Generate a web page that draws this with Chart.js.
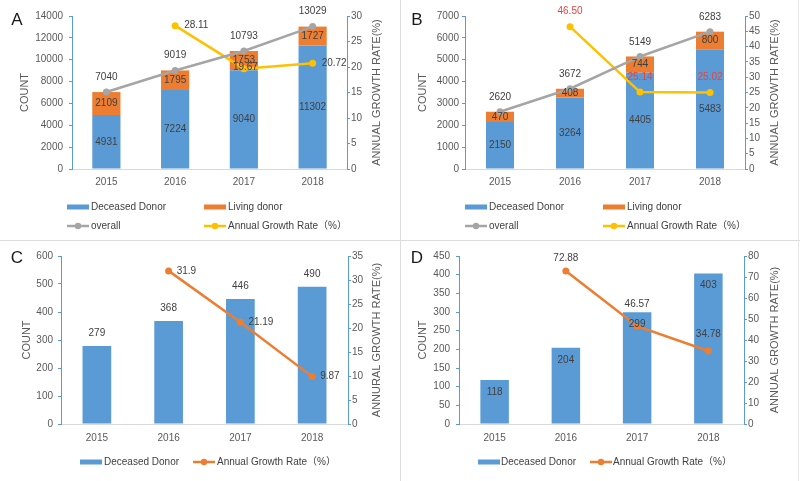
<!DOCTYPE html>
<html><head><meta charset="utf-8">
<script src="https://cdn.jsdelivr.net/npm/chart.js@4.4.0/dist/chart.umd.min.js"></script>
<style>
html,body{margin:0;padding:0;background:#fff;width:800px;height:481px;overflow:hidden;position:relative}
.panel{position:absolute}
canvas{display:block}
.vline{position:absolute;left:400px;top:0;width:1px;height:481px;background:#dcdcdc}
.hline{position:absolute;left:0;top:240px;width:800px;height:1px;background:#dcdcdc}
.rline{position:absolute;left:798px;top:0;width:1px;height:481px;background:#e6e6e6}
</style></head>
<body>
<div class="panel" style="left:0;top:0"><canvas id="cA" width="400" height="240"></canvas></div>
<div class="panel" style="left:400px;top:0"><canvas id="cB" width="400" height="240"></canvas></div>
<div class="panel" style="left:0;top:240px"><canvas id="cC" width="400" height="241"></canvas></div>
<div class="panel" style="left:400px;top:240px"><canvas id="cD" width="400" height="241"></canvas></div>
<div class="vline"></div><div class="hline"></div><div class="rline"></div>
<script>
// ---------- DATA ----------
const years = ['2015', '2016', '2017', '2018'];

const A_deceased = [4931, 7224, 9040, 11302];
const A_living   = [2109, 1795, 1753, 1727];
const A_overall  = [7040, 9019, 10793, 13029];
const A_growth   = [null, 28.11, 19.67, 20.72];

const B_deceased = [2150, 3264, 4405, 5483];
const B_living   = [470, 408, 744, 800];
const B_overall  = [2620, 3672, 5149, 6283];
const B_growth   = [null, 46.50, 25.14, 25.02];

const C_deceased = [279, 368, 446, 490];
const C_growth   = [null, 31.9, 21.19, 9.87];

const D_deceased = [118, 204, 299, 403];
const D_growth   = [null, 72.88, 46.57, 34.78];

// axis ranges / ticks
const A_countAxis = {min: 0, max: 14000, step: 2000};
const A_rateAxis  = {min: 0, max: 30, step: 5};
const B_countAxis = {min: 0, max: 7000, step: 1000};
const B_rateAxis  = {min: 0, max: 50, step: 5};
const C_countAxis = {min: 0, max: 600, step: 100};
const C_rateAxis  = {min: 0, max: 35, step: 5};
const D_countAxis = {min: 0, max: 450, step: 50};
const D_rateAxis  = {min: 0, max: 80, step: 10};

// ---------- STYLE ----------
const BLUE = '#5B9BD5', ORANGE = '#ED7D31', GRAY = '#A5A5A5', YELLOW = '#FFC000', RED = '#E8443A';
const TICK = '#595959', LABEL = '#404040';
const FONT = '"Liberation Sans", Arial, "Noto Sans CJK SC", sans-serif';
Chart.defaults.font.family = FONT;
Chart.defaults.font.size = 10;
Chart.defaults.color = TICK;

const dlPlugin = {
  id: 'dlabels',
  afterDatasetsDraw(chart) {
    const ctx = chart.ctx;
    chart.data.datasets.forEach((ds, i) => {
      const cfg = ds.dl; if (!cfg) return;
      const meta = chart.getDatasetMeta(i);
      meta.data.forEach((el, j) => {
        const v = ds.data[j]; if (v == null) return;
        const txt = cfg.fmt ? cfg.fmt(v) : String(v);
        ctx.save();
        ctx.font = '10px ' + FONT;
        ctx.fillStyle = cfg.color || LABEL;
        ctx.textBaseline = 'middle';
        ctx.textAlign = 'center';
        let x = el.x, y = el.y;
        if (cfg.pos === 'center') y = (el.y + el.base) / 2;
        else if (cfg.pos === 'above') y = el.y - cfg.off;
        else if (cfg.pos === 'inside') y = el.y + cfg.off;
        else if (cfg.pos === 'right') { ctx.textAlign = 'left'; x = el.x + cfg.off; }
        if (cfg.dx) x += cfg.dx[j] || 0;
        if (cfg.dy) y += cfg.dy[j] || 0;
        ctx.fillText(txt, x, y);
        ctx.restore();
      });
    });
  }
};

const decoPlugin = {
  id: 'deco',
  afterDraw(chart, args, o) {
    const ctx = chart.ctx;
    ctx.save();
    // panel letter
    ctx.font = '17px ' + FONT; ctx.fillStyle = '#1a1a1a';
    ctx.textAlign = 'center'; ctx.textBaseline = 'middle';
    ctx.fillText(o.letter, 17, o.letterY);
    // right axis title (reads bottom-to-top)
    const ry = chart.scales.y1;
    ctx.save();
    ctx.translate(o.rightTitleX, (ry.top + ry.bottom) / 2);
    ctx.rotate(-Math.PI / 2);
    ctx.font = '11px ' + FONT; ctx.fillStyle = TICK;
    ctx.fillText(o.rightTitle, 0, 0);
    ctx.restore();
    // legend
    ctx.font = '10px ' + FONT; ctx.textAlign = 'left'; ctx.textBaseline = 'middle';
    o.legend.forEach(it => {
      if (it.type === 'box') {
        ctx.fillStyle = it.color;
        ctx.fillRect(it.x, it.y - 2.5, 22, 5);
      } else {
        ctx.strokeStyle = it.color; ctx.lineWidth = 2.5;
        ctx.beginPath(); ctx.moveTo(it.x, it.y); ctx.lineTo(it.x + 22, it.y); ctx.stroke();
        ctx.fillStyle = it.color; ctx.beginPath(); ctx.arc(it.x + 11, it.y, 3.2, 0, Math.PI * 2); ctx.fill();
      }
      ctx.fillStyle = LABEL;
      ctx.fillText(it.text, it.tx, it.y + 0.5);
    });
    ctx.restore();
  }
};

const plain = v => String(v);

function makeScales(p) {
  return {
    x: {
      stacked: true,
      grid: {display: false, drawTicks: false},
      border: {color: '#D9D9D9', width: 1},
      ticks: {color: TICK, font: {size: 10}, padding: p.xPad},
      afterFit(s) { s.height = p.xH; }
    },
    y: {
      stacked: true, position: 'left',
      min: p.count.min, max: p.count.max,
      ticks: {stepSize: p.count.step, color: TICK, font: {size: 10}, padding: p.yPad, callback: plain},
      grid: {drawOnChartArea: false, color: BLUE, tickLength: 3},
      border: {color: BLUE, width: 1},
      title: {display: true, text: 'COUNT', color: TICK, font: {size: 11}, padding: {top: p.leftTitlePad, bottom: 0}},
      afterFit(s) { s.width = p.leftW; }
    },
    y1: {
      position: 'right',
      min: p.rate.min, max: p.rate.max,
      ticks: {stepSize: p.rate.step, color: TICK, font: {size: 10}, padding: 1, callback: plain},
      grid: {drawOnChartArea: false, color: BLUE, tickLength: 3},
      border: {color: BLUE, width: 1},
      afterFit(s) { s.width = p.rightW; }
    }
  };
}

function barDs(label, data, color, bp, dl) {
  return {type: 'bar', label, data, backgroundColor: color, yAxisID: 'y', stack: 'count',
          categoryPercentage: 1, barPercentage: bp, order: 2, dl};
}
function lineDs(label, data, color, axis, stack, dl) {
  return {type: 'line', label, data, borderColor: color, backgroundColor: color, borderWidth: 2.5,
          pointRadius: 3.5, pointHoverRadius: 3.5, pointBorderWidth: 0, pointBackgroundColor: color,
          yAxisID: axis, stack, order: 0, tension: 0, dl};
}

function build(id, datasets, p, deco) {
  new Chart(document.getElementById(id), {
    data: {labels: years, datasets},
    options: {
      responsive: false, animation: false, devicePixelRatio: 1,
      layout: {padding: {top: 16, left: 0, right: 0, bottom: 0}},
      plugins: {legend: {display: false}, tooltip: {enabled: false}, deco},
      scales: makeScales(p)
    },
    plugins: [dlPlugin, decoPlugin]
  });
}

// ---------- PANEL A ----------
build('cA', [
  lineDs('overall', A_overall, GRAY, 'y', 'overall', {pos: 'above', off: 15}),
  lineDs('Annual Growth Rate（%）', A_growth, YELLOW, 'y1', 'g', {pos: 'right', off: 9, fmt: v => v.toFixed(2), dx: [0, 0, -20, 0], dy: [0, 0, -1, 0]}),
  barDs('Deceased Donor', A_deceased, BLUE, 0.41, {pos: 'center'}),
  barDs('Living donor', A_living, ORANGE, 0.41, {pos: 'center'})
], {count: A_countAxis, rate: A_rateAxis, xPad: 7, xH: 71, yPad: 6, leftW: 72, rightW: 53, leftTitlePad: 18},
{letter: 'A', letterY: 20, rightTitle: 'ANNUAL GROWTH RATE(%)', rightTitleX: 377, legend: [
  {type: 'box', color: BLUE, x: 67, y: 207, tx: 91, text: 'Deceased Donor'},
  {type: 'box', color: ORANGE, x: 204, y: 207, tx: 228, text: 'Living donor'},
  {type: 'line', color: GRAY, x: 67, y: 226, tx: 91, text: 'overall'},
  {type: 'line', color: YELLOW, x: 204, y: 226, tx: 228, text: 'Annual Growth Rate（%）'}
]});

// ---------- PANEL B ----------
build('cB', [
  lineDs('overall', B_overall, GRAY, 'y', 'overall', {pos: 'above', off: 14}),
  lineDs('Annual Growth Rate（%）', B_growth, YELLOW, 'y1', 'g', {pos: 'above', off: 15, color: RED, fmt: v => v.toFixed(2)}),
  barDs('Deceased Donor', B_deceased, BLUE, 0.40, {pos: 'center'}),
  barDs('Living donor', B_living, ORANGE, 0.40, {pos: 'center'})
], {count: B_countAxis, rate: B_rateAxis, xPad: 7, xH: 71, yPad: 3, leftW: 65, rightW: 55, leftTitlePad: 16},
{letter: 'B', letterY: 20, rightTitle: 'ANNUAL GROWTH RATE(%)', rightTitleX: 375, legend: [
  {type: 'box', color: BLUE, x: 65, y: 207, tx: 89, text: 'Deceased Donor'},
  {type: 'box', color: ORANGE, x: 203, y: 207, tx: 227, text: 'Living donor'},
  {type: 'line', color: GRAY, x: 65, y: 226, tx: 89, text: 'overall'},
  {type: 'line', color: YELLOW, x: 203, y: 226, tx: 227, text: 'Annual Growth Rate（%）'}
]});

// ---------- PANEL C ----------
build('cC', [
  lineDs('Annual Growth Rate（%）', C_growth, ORANGE, 'y1', 'g', {pos: 'right', off: 8}),
  barDs('Deceased Donor', C_deceased, BLUE, 0.40, {pos: 'above', off: 13})
], {count: C_countAxis, rate: C_rateAxis, xPad: 8, xH: 57, yPad: 5, leftW: 61, rightW: 52, leftTitlePad: 20},
{letter: 'C', letterY: 18, rightTitle: 'ANNURAL GROWTH RATE(%)', rightTitleX: 377, legend: [
  {type: 'box', color: BLUE, x: 80, y: 222, tx: 104, text: 'Deceased Donor'},
  {type: 'line', color: ORANGE, x: 193, y: 222, tx: 217, text: 'Annual Growth Rate（%）'}
]});

// ---------- PANEL D ----------
build('cD', [
  lineDs('Annual Growth Rate（%）', D_growth, ORANGE, 'y1', 'g', {pos: 'above', off: 13, fmt: v => v.toFixed(2), dy: [0, 0, -9, -4]}),
  barDs('Deceased Donor', D_deceased, BLUE, 0.40, {pos: 'inside', off: 12})
], {count: D_countAxis, rate: D_rateAxis, xPad: 8, xH: 57, yPad: 6, leftW: 59, rightW: 56, leftTitlePad: 16},
{letter: 'D', letterY: 18, rightTitle: 'ANNUAL GROWTH RATE(%)', rightTitleX: 375, legend: [
  {type: 'box', color: BLUE, x: 78, y: 222, tx: 101, text: 'Deceased Donor'},
  {type: 'line', color: ORANGE, x: 190, y: 222, tx: 213, text: 'Annual Growth Rate（%）'}
]});
</script>
</body></html>
